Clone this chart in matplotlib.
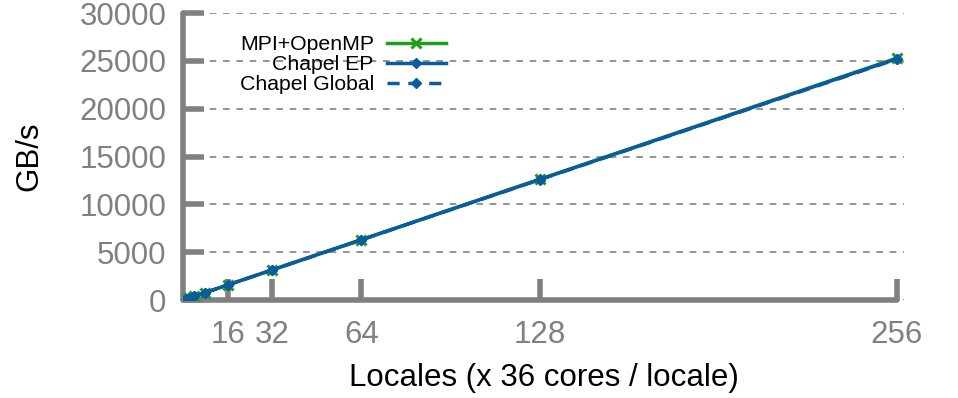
import matplotlib
matplotlib.use("Agg")
import matplotlib.pyplot as plt

locales = [1, 2, 4, 8, 16, 32, 64, 128, 256]
mpi_openmp = [99, 198, 395, 790, 1580, 3160, 6320, 12640, 25300]
chapel_ep = [98, 197, 394, 788, 1577, 3155, 6310, 12620, 25250]
chapel_global = [98, 196, 393, 786, 1573, 3148, 6300, 12600, 25200]
xticks = [16, 32, 64, 128, 256]
yticks = [0, 5000, 10000, 15000, 20000, 25000, 30000]

plt.rcParams['font.family'] = ['Liberation Sans', 'DejaVu Sans']
fig = plt.figure(figsize=(9.58, 3.98), dpi=100)
ax = fig.add_axes([0.191, 0.246, 0.7526, 0.721])

green = '#1aa01a'
blue = '#0b5c9e'
ax.plot(locales, mpi_openmp, color=green, lw=2.5, marker='x', ms=7, mew=2.2, label='MPI+OpenMP', zorder=3)
ax.plot(locales, chapel_ep, color=blue, lw=2.5, marker='D', ms=5, label='Chapel EP', zorder=4)
ax.plot(locales, chapel_global, color=blue, lw=2.5, ls=(0, (3.5, 2.5)), marker='D', ms=5, label='Chapel Global', zorder=5)

gray = '#808080'
ax.set_xlim(0, 258.5)
ax.set_ylim(0, 30000)
ax.set_xticks(xticks)
ax.set_yticks(yticks)
for s in ['top', 'right']:
    ax.spines[s].set_visible(False)
for s in ['left', 'bottom']:
    ax.spines[s].set_color(gray)
    ax.spines[s].set_linewidth(4)
    ax.spines[s].set_capstyle('round')
ax.spines['bottom'].set_bounds(0, 256)
ax.tick_params(axis='both', direction='in', length=15, width=4, color=gray,
               labelcolor=gray, labelsize=22.5, pad=12)
ax.tick_params(axis='x', pad=14)
for t in ax.xaxis.get_major_ticks() + ax.yaxis.get_major_ticks():
    t.tick1line.set_solid_capstyle('round')
ax.yaxis.grid(True, color=gray, ls=(0, (4, 4)), lw=1.2)
ax.set_axisbelow(True)
for sp in ax.spines.values():
    sp.set_clip_on(False)

ax.set_xlabel('Locales (x 36 cores / locale)', fontsize=22.5, labelpad=10)
ax.set_ylabel('GB/s', fontsize=22.5, labelpad=25)

leg = ax.legend(loc='upper left', bbox_to_anchor=(0.052, 0.99), frameon=False,
                markerfirst=False, fontsize=15.3, handlelength=2.8, labelspacing=0.05,
                handletextpad=0.6)
for t in leg.get_texts():
    t.set_ha('right')

fig.savefig('out.png', dpi=100)
